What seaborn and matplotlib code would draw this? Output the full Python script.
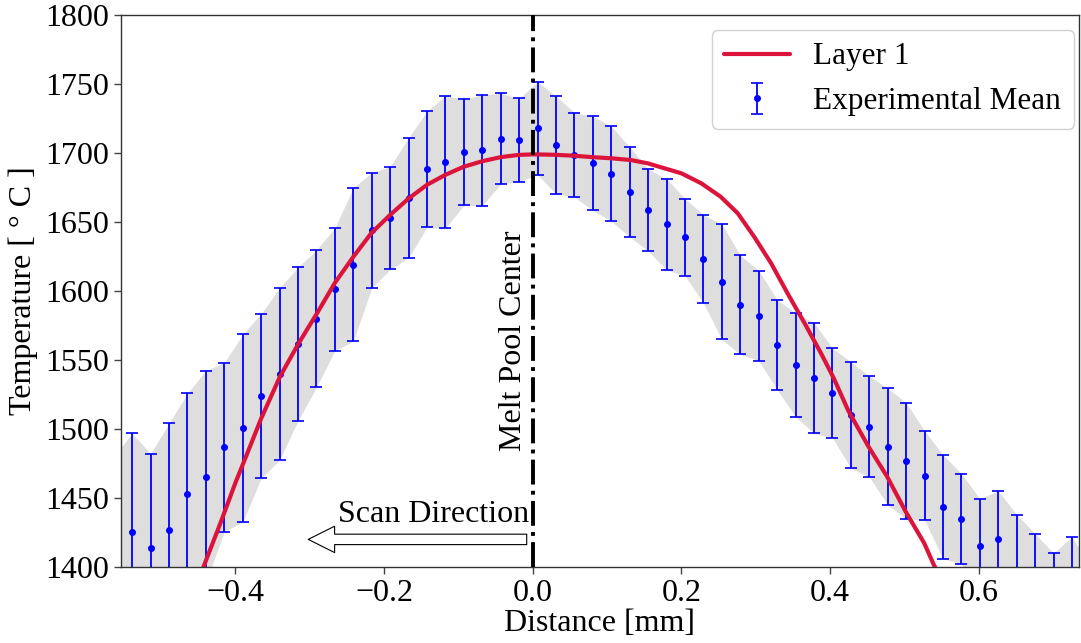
import numpy as np
import pandas as pd
import matplotlib
matplotlib.use("Agg")
import matplotlib.pyplot as plt
import seaborn as sns

# ---------------- data ----------------
exp_x = [-0.5638, -0.539, -0.5142, -0.4894, -0.4646, -0.4398, -0.415, -0.3902, -0.3654,
         -0.3406, -0.3158, -0.291, -0.2662, -0.2414, -0.2166, -0.1918, -0.167, -0.1422,
         -0.1174, -0.0926, -0.0678, -0.043, -0.0182, 0.0066, 0.0314, 0.0562, 0.081,
         0.1058, 0.1306, 0.1554, 0.1802, 0.205, 0.2298, 0.2546, 0.2794, 0.3042, 0.329,
         0.3538, 0.3786, 0.4034, 0.4282, 0.453, 0.4778, 0.5026, 0.5274, 0.5522, 0.577,
         0.6018, 0.6266, 0.6514, 0.6762, 0.701, 0.7258, 0.7506]
exp_mean = [1410, 1425.4, 1413.6, 1426.8, 1452.7, 1465.5, 1486.9, 1500.5, 1523.9,
            1539.9, 1561.6, 1579.9, 1601.2, 1619.1, 1644.0, 1652.9, 1667.6, 1688.2,
            1693.5, 1700.5, 1702.0, 1710.4, 1709.4, 1717.9, 1705.8, 1698.6, 1692.5,
            1685.0, 1671.7, 1658.7, 1648.3, 1638.9, 1623.2, 1606.7, 1589.9, 1582.2,
            1561.1, 1546.4, 1536.9, 1526.1, 1510.1, 1501.7, 1487.2, 1477.0, 1466.2,
            1443.7, 1434.8, 1415.4, 1420.3, 1392.0, 1388.0, 1376.0, 1386.0, 1365.0]
exp_std = [70, 71.5, 68.5, 77.3, 73.2, 76.8, 61.2, 68.0, 59.6,
           62.3, 55.6, 49.8, 44.5, 55.6, 41.8, 37.3, 43.5, 42.0,
           48.1, 38.4, 40.1, 32.9, 30.1, 33.6, 35.3, 30.7, 34.1,
           34.4, 32.6, 29.6, 33.0, 28.0, 31.9, 41.8, 35.9, 32.6,
           32.6, 37.6, 40.1, 32.5, 38.5, 36.5, 42.3, 42.0, 32.4,
           37.6, 32.8, 34.1, 34.8, 46.0, 36.0, 34.0, 36.0, 35.0]

model_x = [-0.46, -0.443, -0.42, -0.40, -0.388, -0.365, -0.340, -0.315, -0.290, -0.266,
           -0.241, -0.217, -0.192, -0.167, -0.142, -0.118, -0.093, -0.068, -0.043,
           -0.019, 0.0, 0.03, 0.056, 0.08, 0.105, 0.132, 0.155, 0.173, 0.200, 0.227,
           0.253, 0.276, 0.298, 0.321, 0.343, 0.366, 0.388, 0.405, 0.425, 0.452,
           0.477, 0.502, 0.527, 0.540, 0.56]
model_t = [1373, 1400, 1432, 1461, 1477, 1508, 1538, 1562, 1584, 1606,
           1625, 1642, 1655, 1667, 1677, 1684, 1690, 1694, 1697,
           1698.6, 1699, 1698.7, 1698, 1697, 1696.2, 1694.9, 1692.5, 1689.6, 1685.3, 1678,
           1668.3, 1656.3, 1639.4, 1620, 1598.3, 1576.6, 1554.9, 1537, 1513, 1487.2,
           1465.5, 1440.1, 1417.2, 1401.4, 1381]

x_ticks = [-0.4, -0.2, 0.0, 0.2, 0.4, 0.6]
y_ticks = [1400, 1450, 1500, 1550, 1600, 1650, 1700, 1750, 1800]

# ---------------- style ----------------
sns.set_theme(style="ticks")
plt.rcParams["font.family"] = ["Liberation Serif", "DejaVu Serif"]
plt.rcParams["text.color"] = "black"
plt.rcParams["axes.labelcolor"] = "black"
plt.rcParams["xtick.labelcolor"] = "black"
plt.rcParams["ytick.labelcolor"] = "black"
FS = 23

fig = plt.figure(figsize=(10.81, 6.43), dpi=100)
ax = fig.add_axes([0.1119, 0.1182, 0.8861, 0.8585])

mean = np.array(exp_mean)
std = np.array(exp_std)
ax.fill_between(exp_x, mean - std, mean + std, color="#dedede", lw=0, zorder=1)

model_df = pd.DataFrame({"x": model_x, "t": model_t})
sns.lineplot(data=model_df, x="x", y="t", color="#dc143c", lw=3, sort=False,
             estimator=None, ax=ax, zorder=4, label="Layer 1")

ax.errorbar(exp_x, exp_mean, yerr=exp_std, fmt=".", color="blue", ecolor="blue",
            elinewidth=1.3, capsize=4.5, capthick=1.2, markersize=8, zorder=3,
            label="Experimental Mean")

ax.axvline(0.0, color="black", ls="-.", lw=2.8, zorder=5)
ax.text(-0.006, 1564, "Melt Pool Center", rotation=90, ha="right", va="center",
        fontsize=FS, color="black")

ax.annotate("", xy=(-0.302, 1420), xytext=(-0.008, 1420),
            arrowprops=dict(facecolor="white", edgecolor="black", width=7.5,
                            headwidth=19, headlength=19, lw=0.8, shrink=0))
ax.text(-0.262, 1438, "Scan Direction", ha="left", va="center", fontsize=FS,
        color="black")

ax.set_xlim(-0.554, 0.735)
ax.set_ylim(1400, 1800)
ax.set_xticks(x_ticks)
ax.set_yticks(y_ticks)
ax.tick_params(labelsize=FS, labelcolor="black", length=5, width=1, color="#444444")
for s in ax.spines.values():
    s.set_visible(True)
    s.set_color("#333333")
    s.set_linewidth(1.0)

ax.set_xlabel("Distance [mm]", fontsize=FS, labelpad=1, color="black")
ax.set_ylabel("Temperature [ ° C ]", fontsize=FS, labelpad=5, color="black")

handles, labels = ax.get_legend_handles_labels()
order = [labels.index("Layer 1"), labels.index("Experimental Mean")]
leg = ax.legend([handles[i] for i in order], [labels[i] for i in order],
                loc="upper right", bbox_to_anchor=(0.9948, 0.9728), borderaxespad=0,
                fontsize=22.5, handlelength=2.1, handletextpad=0.75, borderpad=0.4,
                labelspacing=0.5, framealpha=0.9, edgecolor="#cccccc", fancybox=True)
for t in leg.get_texts():
    t.set_color("black")

fig.savefig("out.png", dpi=100)
